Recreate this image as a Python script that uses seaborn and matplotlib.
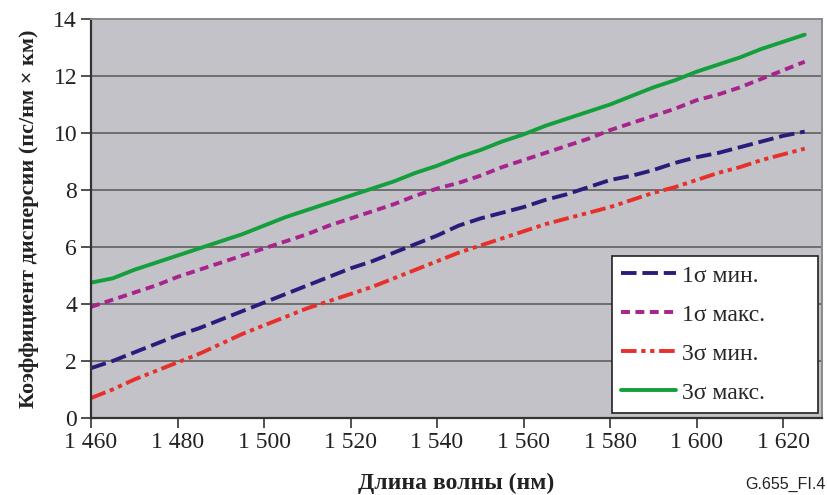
import matplotlib
matplotlib.use("Agg")
import matplotlib.pyplot as plt
import matplotlib.ticker as mticker
import seaborn as sns
import pandas as pd

wavelength = [1460, 1465, 1470, 1475, 1480, 1485, 1490, 1495, 1500, 1505, 1510, 1515,
              1520, 1525, 1530, 1535, 1540, 1545, 1550, 1555, 1560, 1565, 1570, 1575,
              1580, 1585, 1590, 1595, 1600, 1605, 1610, 1615, 1620, 1625]
s1_min = [1.75, 2.0, 2.3, 2.6, 2.9, 3.15, 3.45, 3.75, 4.05, 4.35, 4.65, 4.95,
          5.25, 5.5, 5.8, 6.1, 6.4, 6.75, 7.0, 7.2, 7.4, 7.65, 7.85, 8.1,
          8.35, 8.5, 8.7, 8.95, 9.15, 9.3, 9.5, 9.7, 9.9, 10.05]
s1_max = [3.9, 4.15, 4.4, 4.65, 4.95, 5.2, 5.45, 5.7, 5.95, 6.2, 6.45, 6.75,
          7.0, 7.25, 7.5, 7.8, 8.05, 8.25, 8.5, 8.8, 9.05, 9.3, 9.55, 9.8,
          10.1, 10.35, 10.6, 10.85, 11.15, 11.35, 11.6, 11.9, 12.2, 12.5]
s3_min = [0.7, 1.0, 1.35, 1.65, 1.95, 2.25, 2.6, 2.95, 3.25, 3.55, 3.85, 4.1,
          4.35, 4.6, 4.9, 5.2, 5.5, 5.8, 6.05, 6.3, 6.55, 6.8, 7.0, 7.2,
          7.4, 7.65, 7.9, 8.1, 8.35, 8.6, 8.8, 9.05, 9.25, 9.45]
s3_max = [4.75, 4.9, 5.2, 5.45, 5.7, 5.95, 6.2, 6.45, 6.75, 7.05, 7.3, 7.55,
          7.8, 8.05, 8.3, 8.6, 8.85, 9.15, 9.4, 9.7, 9.95, 10.25, 10.5, 10.75,
          11.0, 11.3, 11.6, 11.85, 12.15, 12.4, 12.65, 12.95, 13.2, 13.45]

labels = ["1σ мин.", "1σ макс.", "3σ мин.", "3σ макс."]
series = [s1_min, s1_max, s3_min, s3_max]
colors = ["#2B1C7C", "#A8238E", "#E8302A", "#13A03C"]
styles = [(0, (4.0, 1.5)), (0, (2.3, 1.4)), (0, (4.0, 1.2, 1.1, 1.2, 1.1, 1.2)), "-"]

sns.set_theme(style="white")
plt.rcParams["font.family"] = ["Liberation Serif", "DejaVu Serif"]

fig = plt.figure(figsize=(8.28, 4.95), dpi=100)
ax = fig.add_axes([91 / 828, 1 - 418 / 495, (822 - 91) / 828, (418 - 19) / 495])
ax.set_facecolor("#C2C2C8")

for lab, vals, c, ls in zip(labels, series, colors, styles):
    df = pd.DataFrame({"wl": wavelength, "d": vals})
    sns.lineplot(data=df, x="wl", y="d", ax=ax, color=c, lw=2.8, linestyle=ls, label=lab)

ax.set_xlim(1460, 1629)
ax.set_ylim(0, 14)
ax.set_xticks(range(1460, 1621, 20))
ax.set_yticks(range(0, 15, 2))
ax.xaxis.set_major_formatter(mticker.FuncFormatter(lambda v, p: f"{int(v):,}".replace(",", " ")))
ax.yaxis.grid(True, color="#6E6E6E", lw=1.4)
ax.xaxis.grid(False)
ax.set_axisbelow(True)
ax.tick_params(axis="both", direction="out", length=7, width=1.2, color="#333333",
               labelsize=17, bottom=True, left=True, pad=3, labelcolor="#222222")
for s in ["left", "bottom"]:
    ax.spines[s].set_color("#333333")
    ax.spines[s].set_linewidth(1.6)
for s in ["top", "right"]:
    ax.spines[s].set_color("#8A8A8A")
    ax.spines[s].set_linewidth(1.4)

ax.set_xlabel("Длина волны (нм)", fontsize=17, fontweight="bold", labelpad=14, color="#222222")
ax.set_ylabel("Коэффициент дисперсии (пс/нм × км)", fontsize=16, fontweight="bold",
              labelpad=10, color="#222222")

leg = ax.legend(loc="lower left", bbox_to_anchor=(0.7127, 0.0125, 0.2818, 0.38), mode="expand",
                frameon=True, fancybox=False, fontsize=17, handlelength=2.3,
                handletextpad=0.25, labelspacing=0.74, borderpad=0.4, borderaxespad=0)
leg.get_frame().set_edgecolor("#222222")
leg.get_frame().set_linewidth(1.2)
leg.get_frame().set_facecolor("white")
leg.get_frame().set_alpha(1)

fig.text(0.997, 0.006, "G.655_FI.4", ha="right", va="bottom", fontsize=11.5,
         family="Liberation Sans", color="#222222")

fig.savefig("out.png", dpi=100)
